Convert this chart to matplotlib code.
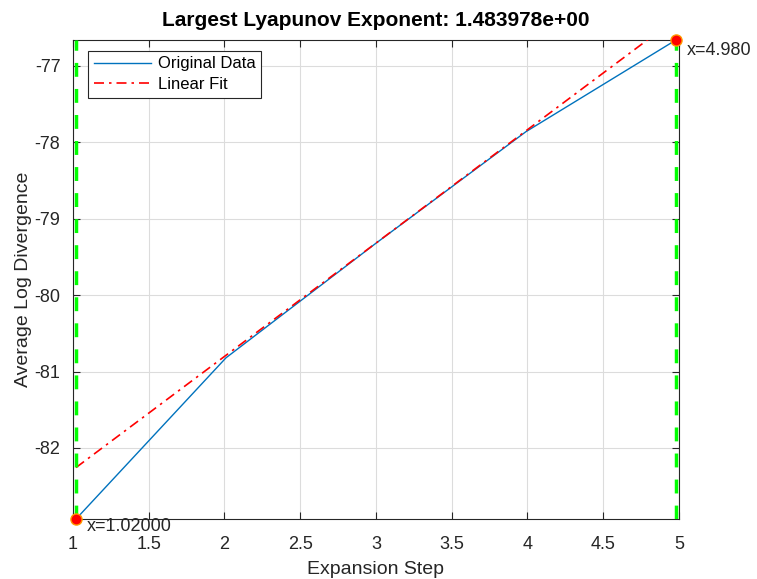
import matplotlib
matplotlib.use("Agg")
import matplotlib.pyplot as plt
import numpy as np

plt.rcParams['font.family'] = ['Liberation Sans', 'DejaVu Sans']
plt.rcParams['axes.unicode_minus'] = False

x_data = [1.02, 2.01, 3.00, 3.99, 4.98]
y_data = [-82.93, -80.82, -79.32, -77.86, -76.66]
slope = 1.483978
intercept = -83.77
x_ticks = [1, 1.5, 2, 2.5, 3, 3.5, 4, 4.5, 5]
y_ticks = [-82, -81, -80, -79, -78, -77]
bounds = [1.02, 4.98]

fig = plt.figure(figsize=(7.57, 5.79), dpi=100)
ax = fig.add_axes([0.0964, 0.1036, 0.8005, 0.8273])

ax.plot(x_data, y_data, color='#0072BD', lw=1.0, label='Original Data', zorder=3)
xf = np.array([x_data[0], x_data[-1]])
ax.plot(xf, slope * xf + intercept, color='red', lw=1.2, ls=(0, (6, 3, 1.5, 3)),
        label='Linear Fit', zorder=3)

for b in bounds:
    ax.axvline(b, color='#00FF00', lw=2.5, ls=(0, (4, 3.5)), zorder=4)

ax.plot([x_data[0], x_data[-1]], [y_data[0], y_data[-1]], 'o', ls='none',
        ms=8, mfc='red', mec='#FF9900', mew=1, zorder=5, clip_on=False)
ax.text(x_data[0] + 0.07, y_data[0] + 0.01, f"x={x_data[0]:.5f}", fontsize=13,
        va='top', ha='left', color='#262626', zorder=6)
ax.text(x_data[-1] + 0.07, y_data[-1] - 0.02, f"x={x_data[-1]:.3f}", fontsize=13,
        va='top', ha='left', color='#262626')

ax.set_xlim(1, 5)
ax.set_ylim(y_data[0], y_data[-1])
ax.set_xticks(x_ticks)
ax.set_xticklabels([f"{t:g}" for t in x_ticks])
ax.set_yticks(y_ticks)
ax.set_yticklabels([f"{t:g}" for t in y_ticks])
ax.grid(True, color='#dcdcdc', lw=0.8)
ax.set_axisbelow(True)
ax.tick_params(direction='in', top=True, right=True, labelsize=13, colors='#262626',
               length=5)
ax.tick_params(axis='x', pad=12)
ax.tick_params(axis='y', pad=9)
for s in ax.spines.values():
    s.set_color('#262626')
    s.set_linewidth(0.8)

ax.set_xlabel('Expansion Step', fontsize=14, color='#262626', labelpad=6)
ax.set_ylabel('Average Log Divergence', fontsize=14, color='#262626', labelpad=2)
ax.set_title('Largest Lyapunov Exponent: 1.483978e+00', fontsize=15,
             fontweight='bold', pad=10)

leg = ax.legend(loc='upper left', bbox_to_anchor=(0.02, 0.985), fontsize=12,
                fancybox=False, edgecolor='#262626', framealpha=1,
                handlelength=3.4, handletextpad=0.4, borderpad=0.35,
                labelspacing=0.35, borderaxespad=0.2)
leg.get_frame().set_linewidth(0.8)

fig.savefig('out.png', dpi=100)
